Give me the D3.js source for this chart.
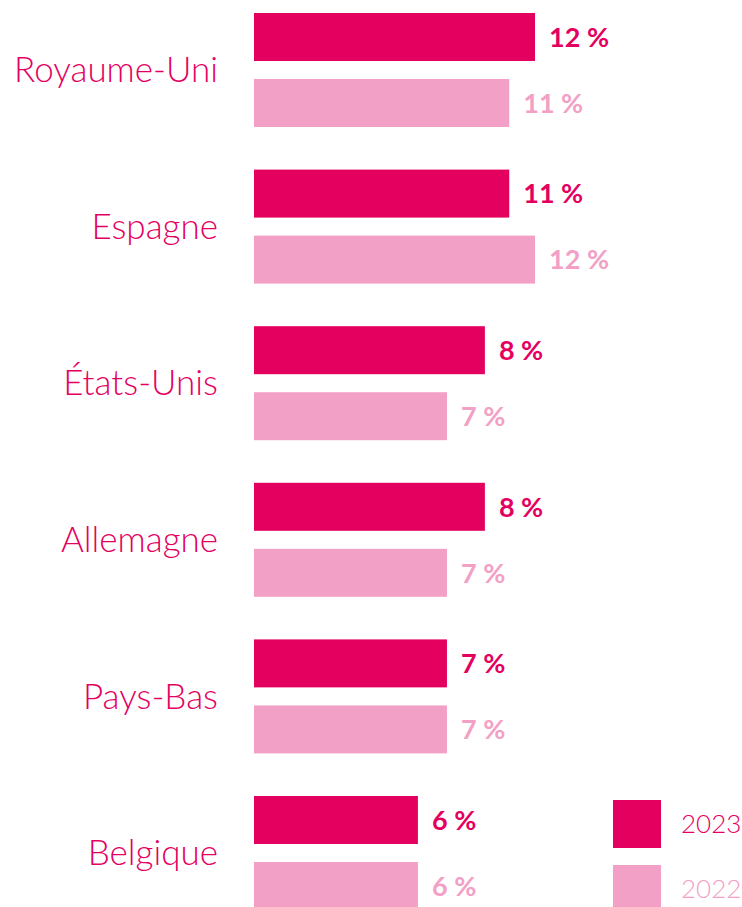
<!DOCTYPE html>
<html>
<head>
<meta charset="utf-8">
<script src="https://cdn.jsdelivr.net/npm/d3@7"></script>
<style>
  body { margin: 0; background: #fff; }
  svg { display: block; }
  .country { font-family: Lato, sans-serif; font-size: 35px; font-weight: 300; fill: #e4005f; }
  .value { font-family: Lato, sans-serif; font-size: 27px; font-weight: 700; }
  .legend { font-family: Lato, sans-serif; font-size: 26px; font-weight: 300; }
</style>
</head>
<body>
<div id="chart"></div>
<script>
// Data
var countries = ["Royaume-Uni", "Espagne", "États-Unis", "Allemagne", "Pays-Bas", "Belgique"];
var years = ["2023", "2022"];
// printed labels (%)
var labels2023 = [12, 11, 8, 8, 7, 6];
var labels2022 = [11, 12, 7, 7, 7, 6];
// bar lengths as drawn, in % units (the picture is not drawn to scale)
var bars2023 = [12, 10.9, 9.86, 9.86, 8.24, 7.0];
var bars2022 = [10.9, 12, 8.24, 8.24, 8.24, 7.0];

var colors = { "2023": "#e4005f", "2022": "#f2a0c5" };

var svgWidth = 742;
var svgHeight = 907;

var svg = d3.select("#chart")
  .append("svg")
  .attr("width", svgWidth)
  .attr("height", svgHeight);

// one band per country, bars inside
var yScale = d3.scaleBand()
  .domain(countries)
  .range([13, 910])
  .paddingInner(0.272)
  .paddingOuter(0);

var yInner = d3.scaleBand()
  .domain(years)
  .range([0, yScale.bandwidth()])
  .paddingInner(0.273);

var xScale = d3.scaleLinear()
  .domain([0, 12])
  .range([254, 535]);

var rows = countries.map(function(c, i) {
  return {
    country: c,
    values: [
      { year: "2023", bar: bars2023[i], label: labels2023[i] },
      { year: "2022", bar: bars2022[i], label: labels2022[i] }
    ]
  };
});

var groups = svg.selectAll("g.row")
  .data(rows)
  .enter()
  .append("g")
  .attr("class", "row")
  .attr("transform", d => `translate(0, ${yScale(d.country)})`);

// country names
groups.append("text")
  .attr("class", "country")
  .attr("x", 218)
  .attr("y", yScale.bandwidth() / 2)
  .attr("dy", "0.35em")
  .attr("text-anchor", "end")
  .text(d => d.country);

// bars
groups.selectAll("rect")
  .data(d => d.values)
  .enter()
  .append("rect")
  .attr("x", xScale(0))
  .attr("y", d => yInner(d.year))
  .attr("width", d => xScale(d.bar) - xScale(0))
  .attr("height", yInner.bandwidth())
  .attr("fill", d => colors[d.year]);

// value labels
groups.selectAll("text.value")
  .data(d => d.values)
  .enter()
  .append("text")
  .attr("class", "value")
  .attr("x", d => xScale(d.bar) + 14)
  .attr("y", d => yInner(d.year) + yInner.bandwidth() / 2)
  .attr("dy", "0.36em")
  .attr("fill", d => colors[d.year])
  .text(d => d.label + " %");

// legend
var legend = svg.selectAll("g.legend")
  .data(years)
  .enter()
  .append("g")
  .attr("class", "legend")
  .attr("transform", (d, i) => `translate(613, ${800 + i * 65})`);

legend.append("rect")
  .attr("width", 48)
  .attr("height", 48)
  .attr("fill", d => colors[d]);

legend.append("text")
  .attr("x", 68)
  .attr("y", 24)
  .attr("dy", "0.36em")
  .attr("fill", d => colors[d])
  .text(d => d);
</script>
</body>
</html>
